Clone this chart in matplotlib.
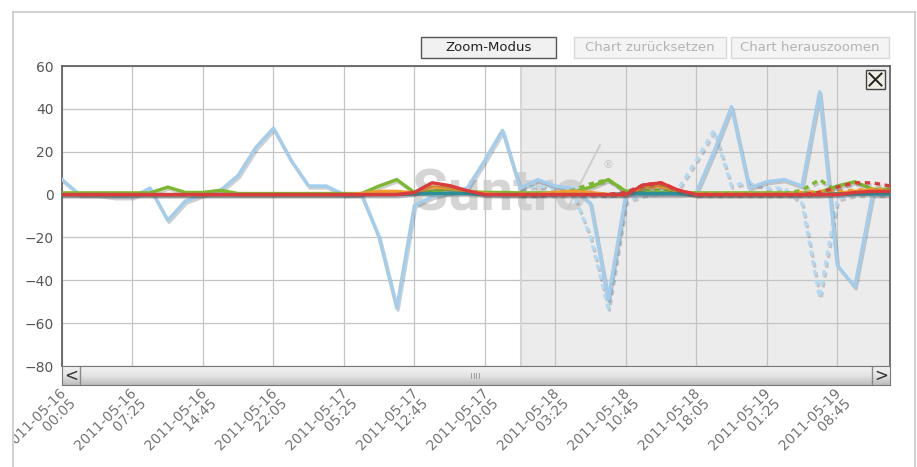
"""
Recreate the Suntrol deviation chart (zoomed view with comparison period)
"""

import numpy as np
import pandas as pd
import matplotlib
matplotlib.use('Agg')
from matplotlib import pyplot as plt
from matplotlib import patheffects as pe
from matplotlib import transforms
from matplotlib import dates as mdates
from matplotlib.patches import Rectangle
from matplotlib.lines import Line2D

W, H = 917, 467

# time axis: one point every 110 minutes
times = pd.date_range('2011-05-16 00:05', periods=48, freq='110min')
tick_labels = [
    '2011-05-16\n00:05', '2011-05-16\n07:25', '2011-05-16\n14:45', '2011-05-16\n22:05',
    '2011-05-17\n05:25', '2011-05-17\n12:45', '2011-05-17\n20:05', '2011-05-18\n03:25',
    '2011-05-18\n10:45', '2011-05-18\n18:05', '2011-05-19\n01:25', '2011-05-19\n08:45',
]

blue = [7, 0, 0, -1, -1, 3, -12, -3, 0, 2, 9, 22, 31, 16, 4, 4, 0, 0, -20, -53, -5, -1, 1, 3,
        16, 30, 3, 7, 4, 3, -4, -49, 0, 0, 0, 0, 1, 20, 41, 3, 6, 7, 4, 48, -33, -43, 0, 0]
green = [0.8, 0.8, 0.8, 0.8, 0.8, 0.8, 3.5, 1, 1, 2, 0.5, 0.5, 0.5, 0.5, 0.5, 0.5, 0.5, 0.5,
         4, 7, 1, 1.5, 2.5, 1.5, 1, 1, 0.8, 0.8, 0.8, 1, 3.5, 7, 1.5, 1, 1, 1, 0.8, 0.8,
         0.8, 0.8, 0.8, 0.8, 0.8, 1, 4, 6, 2.5, 2.5]
orange = [0, 0, 0, 0, 0, 0, 0, 0, 0, 0, 0, 0, 0, 0, 0, 0, 0, 0.5, 1.5, 1.5, 0.8, 3.5, 3, 1.5,
          0.5, 0, 0, 0, 1, 1.5, 1, 0, 0, 3.5, 4, 1.5, 0, 0, 0, 0, 0, 0, 0, 0, 0.5, 1.5, 2, 1.5]
teal = [0, 0, 0, 0, 0, 0, 0, 0, 0, 0, 0, 0, 0, 0, 0, 0, 0, 0, 0, 0, 0.5, 0.5, 0.5, 0.5,
        0, 0, 0, 0, 0, 0, 0, 0, 0.5, 0.5, 0.5, 0.5, 0, 0, 0, 0, 0, 0, 0, 0, 0.3, 0.3, 0.3, 0.3]
red = [0, 0, 0, 0, 0, 0, 0, 0, 0, 0, 0, 0, 0, 0, 0, 0, 0, 0, 0, 0, 1, 5.5, 4.2, 1.8,
       0, 0, 0, 0, 0, 0, 0, 0, 0, 4.5, 5.5, 2, 0, 0, 0, 0, 0, 0, 0, 0, 0, 1, 1.5, 1.5]

# comparison period (dashed), drawn from the start of the zoomed range
cmp_start = 26
blue_cmp = [3, 4, 3, 1, -20, -53, -3, 0, 1, 3, 16, 30, 4, 6, 3, 3, -4, -48, -2, 0, 0, 0]
green_cmp = [0.5, 0.5, 1, 2, 5, 7, 1.5, 2, 2, 1.5, 0.5, 0.5, 0.5, 0.5, 0.5, 0.5, 2, 7, 1.5, 1, 1, 1]
orange_cmp = [0.3, 0.3, 1, 1.5, 0.3, 0.3, 0.3, 3, 3.5, 1.5, 0.3, 0.3, 0.3, 0.3, 0.3, 0.3, 1, 1.5,
              1.5, 2, 2.5, 2]
red_cmp = [0, 0, 0, 0, 0, 0, 1, 4.5, 5.5, 2, 0, 0, 0, 0, 0, 0, 0, 1, 3.5, 5.5, 5.5, 4]

C_BLUE = '#a3cdec'
C_GREEN = '#7cb82f'
C_ORANGE = '#f39a2c'
C_TEAL = '#2a8f98'
C_RED = '#dc3b3b'


def fx(x):
    return x / W


def fy(y):
    return 1 - y / H


fig = plt.figure(figsize=(W / 100, H / 100), dpi=100)
fig.patch.set_facecolor('white')

ax = fig.add_axes([fx(62), fy(366), (890 - 62) / W, (366 - 66) / H])
ax.set_facecolor('white')
ax.set_xlim(times[0], times[-1])
ax.set_ylim(-80, 60)
ax.set_yticks(range(-80, 61, 20))
ax.set_xticks(times[::4])
ax.set_xticklabels([])
ax.grid(True, color='#c4c4c4', linewidth=0.9)
ax.set_axisbelow(True)
for side in ('left', 'top', 'right'):
    ax.spines[side].set_color('#5a5a5a')
    ax.spines[side].set_linewidth(1.2)
ax.spines['bottom'].set_visible(False)
ax.tick_params(axis='y', length=0, pad=6, labelsize=10, labelcolor='#555555')
ax.tick_params(axis='x', length=0)

# rotated date labels below the scrollbar; the first one is cut at the widget frame
lab_trans = transforms.blended_transform_factory(ax.transData, fig.transFigure) + \
    transforms.ScaledTranslation(-4 / 100, 0, fig.dpi_scale_trans)
for i, (t, lab) in enumerate(zip(times[::4], tick_labels)):
    txt = fig.text(mdates.date2num(t), fy(387), lab, transform=lab_trans, rotation=45,
                   rotation_mode='anchor', ha='right', va='top', multialignment='right',
                   fontsize=10, color='#777777', linespacing=1.0,
                   path_effects=[pe.Normal()])
    if i == 0:
        txt.set_clip_path(Rectangle((fx(14), 0), 1, 1, transform=fig.transFigure))
        txt.set_clip_on(True)

# selected zoom range
ax.axvspan(times[cmp_start] + pd.Timedelta('3min'), times[-1], color='#ececec', zorder=0.5, lw=0)
ax.axvline(times[cmp_start] + pd.Timedelta('3min'), color='#d6d6d6', lw=1.5, zorder=0.6)

# watermark
ax.text((412 - 62) / 828, (366 - 210) / 300, 'Suntro', transform=ax.transAxes, fontsize=42,
        family='Roboto', fontweight='bold', color='#c8c8c8', alpha=0.75, ha='left',
        va='baseline', zorder=1.5)
ax.add_line(Line2D([(568 - 62) / 828, (600 - 62) / 828], [(366 - 208) / 300, (366 - 145) / 300],
                   transform=ax.transAxes, color='#c8c8c8', lw=1.5, alpha=0.8, zorder=1.5))
ax.text((603 - 62) / 828, (366 - 165) / 300, '®', transform=ax.transAxes, fontsize=8,
        color='#c4c4c4', ha='left', va='center', zorder=1.5)

shadow = [pe.SimpleLineShadow(offset=(1, -1.5), shadow_color='#555555', alpha=0.28), pe.Normal()]
lw = 2.4
dash = (0, (1.6, 1.4))
t_cmp = times[cmp_start:]

ax.plot(t_cmp, blue_cmp, color='#b3daf5', lw=lw, ls=dash, zorder=2, path_effects=shadow)
ax.plot(times, blue, color=C_BLUE, lw=lw, zorder=3, path_effects=shadow)
ax.plot(t_cmp, green_cmp, color=C_GREEN, lw=lw, ls=dash, zorder=4, path_effects=shadow)
ax.plot(times, green, color=C_GREEN, lw=lw, zorder=4.5, path_effects=shadow)
ax.plot(t_cmp, orange_cmp, color=C_ORANGE, lw=lw, ls=dash, zorder=5, path_effects=shadow)
ax.plot(times, orange, color=C_ORANGE, lw=lw, zorder=5.5, path_effects=shadow)
ax.plot(times, teal, color=C_TEAL, lw=lw, zorder=6, path_effects=shadow)
ax.plot(t_cmp, red_cmp, color=C_RED, lw=lw, ls=dash, zorder=6.5, path_effects=shadow)
ax.plot(times, red, color=C_RED, lw=lw, zorder=7, path_effects=shadow)

# close button of the zoom range
fig.add_artist(Rectangle((fx(866), fy(89)), 19 / W, 19 / H, transform=fig.transFigure,
                         fc='#efeee4', ec='#444444', lw=1, zorder=10))
for xs, ys in (((869.5, 881.5), (73.5, 85.5)), ((869.5, 881.5), (85.5, 73.5))):
    fig.add_artist(Line2D([fx(xs[0]), fx(xs[1])], [fy(ys[0]), fy(ys[1])], color='#222222', lw=1.4,
                          zorder=11))

# scrollbar under the plot
sb = fig.add_axes([fx(62), fy(385), (890 - 62) / W, 19 / H])
grad = np.linspace(0, 1, 50).reshape(-1, 1)
sb.imshow(grad, aspect='auto', cmap=matplotlib.colors.LinearSegmentedColormap.from_list(
    'sb', ['#f2f2f2', '#e4e4e4', '#bdbdbd']), extent=[0, 1, 0, 1])
sb.set_xlim(0, 1)
sb.set_ylim(0, 1)
sb.set_xticks([])
sb.set_yticks([])
for s in sb.spines.values():
    s.set_color('#777777')
sb.axvline(18 / 828, color='#888888', lw=1)
sb.axvline(1 - 18 / 828, color='#888888', lw=1)
sb.text(9 / 828, 0.5, '<', ha='center', va='center', fontsize=12, color='#333333')
sb.text(1 - 9 / 828, 0.5, '>', ha='center', va='center', fontsize=12, color='#333333')
for k in range(4):
    sb.axvline((471 - 62 + 2.5 * k) / 828, ymin=0.35, ymax=0.65, color='#a0a0a0', lw=0.7)


def button(x0, x1, label, enabled):
    fig.add_artist(Rectangle((fx(x0), fy(58)), (x1 - x0) / W, 21 / H, transform=fig.transFigure,
                             fc='#f1f1f1' if enabled else '#f4f4f4',
                             ec='#555555' if enabled else '#d8d8d8', lw=1))
    fig.text(fx((x0 + x1) / 2), fy(47.5), label, ha='center', va='center', fontsize=9.5,
             color='#222222' if enabled else '#b4b4b4')


button(421, 556, 'Zoom-Modus', True)
button(574, 726, 'Chart zurücksetzen', False)
button(731, 889, 'Chart herauszoomen', False)

# outer frame of the widget
frame = dict(color='#c8c8c8', lw=1.2)
fig.add_artist(Line2D([fx(13), fx(915)], [fy(12), fy(12)], **frame))
fig.add_artist(Line2D([fx(13), fx(13)], [fy(12), 0], **frame))
fig.add_artist(Line2D([fx(915), fx(915)], [fy(12), 0], **frame))

fig.savefig('out.png', dpi=100)
